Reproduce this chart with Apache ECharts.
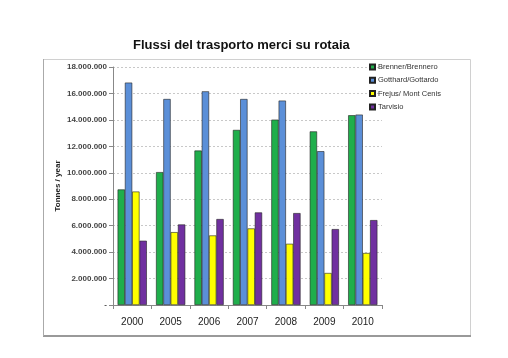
<!DOCTYPE html>
<html>
<head>
<meta charset="utf-8">
<script src="https://cdn.jsdelivr.net/npm/echarts@6/dist/echarts.min.js"></script>
<style>html,body{margin:0;padding:0;background:#fff}#c{width:508px;height:358px}</style>
</head>
<body>
<div id="c"></div>
<script>
var categories = ['2000','2005','2006','2007','2008','2009','2010'];
var brenner  = [8740000, 10050000, 11680000, 13240000, 14020000, 13130000, 14350000];
var gotthard = [16820000, 15580000, 16160000, 15580000, 15460000, 11630000, 14400000];
var frejus   = [8580000, 5510000, 5260000, 5790000, 4630000, 2420000, 3930000];
var tarvisio = [4860000, 6090000, 6500000, 7000000, 6950000, 5740000, 6420000];
var seriesNames = ['Brenner/Brennero','Gotthard/Gottardo','Frejus/ Mont Cenis','Tarvisio'];

var chart = echarts.init(document.getElementById('c'), null, {renderer:'canvas'});
function fmt(v){
  if (v === 0) return '-';
  return String(v).replace(/\B(?=(\d{3})+(?!\d))/g, '.');
}
var border = {borderColor:'#222', borderWidth:0.6};
chart.setOption({
  animation:false,
  backgroundColor:'#fff',
  color:['#1fae4b','#5b8fd8','#ffff00','#7030a0'],
  title:{text:'Flussi del trasporto merci su rotaia', left:128, top:34,
    textStyle:{fontSize:13, fontWeight:'bold', color:'#111', fontFamily:'Liberation Sans'}},
  graphic:[
    {type:'rect', shape:{x:43.5,y:59.5,width:427,height:276}, style:{fill:'none', stroke:'#d0d0d0', lineWidth:1}},
    {type:'line', shape:{x1:43,y1:336,x2:471,y2:336}, style:{stroke:'#999', lineWidth:2}},
    {type:'line', shape:{x1:43.5,y1:59,x2:43.5,y2:336}, style:{stroke:'#aaa', lineWidth:1}}
  ],
  legend:{orient:'vertical', left:364, top:58, itemWidth:5, itemHeight:5, itemGap:5.3,
    icon:'rect', data:seriesNames,
    textStyle:{fontSize:7.5, color:'#333', fontFamily:'Liberation Sans', padding:[0,0,0,-2]}},
  grid:{left:113, right:126, top:67, bottom:53},
  xAxis:{type:'category', data:categories,
    axisLine:{lineStyle:{color:'#888'}},
    axisTick:{show:true, length:4, lineStyle:{color:'#888'}},
    axisLabel:{fontSize:10, color:'#222', margin:12, fontFamily:'Liberation Sans'}},
  yAxis:{type:'value', min:0, max:18000000, interval:2000000,
    name:'Tonnes / year', nameLocation:'middle', nameGap:51, nameMoveOverlap:false,
    nameTextStyle:{fontSize:8, fontWeight:'bold', color:'#222', fontFamily:'Liberation Sans'},
    axisLine:{show:true, lineStyle:{color:'#888'}},
    axisTick:{show:true, length:4, lineStyle:{color:'#888'}},
    axisLabel:{fontSize:8, fontWeight:'bold', color:'#444', margin:6, formatter:fmt, fontFamily:'Liberation Sans'},
    splitLine:{lineStyle:{color:'#c8c8c8', type:[2,2]}}},
  series:[
    {name:seriesNames[0], type:'bar', data:brenner, barGap:'0%', barCategoryGap:'24%', itemStyle:border},
    {name:seriesNames[1], type:'bar', data:gotthard, itemStyle:border},
    {name:seriesNames[2], type:'bar', data:frejus, itemStyle:border},
    {name:seriesNames[3], type:'bar', data:tarvisio, itemStyle:border}
  ]
});
</script>
</body>
</html>
